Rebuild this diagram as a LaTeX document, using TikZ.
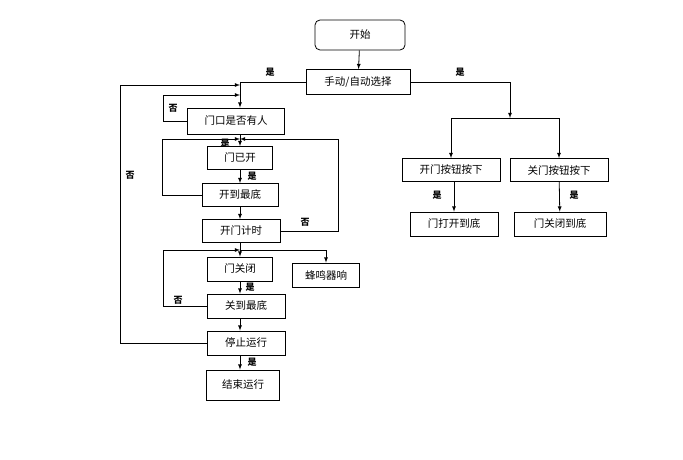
\documentclass[tikz,border=0pt]{standalone}
\usepackage{fontspec}
\usepackage{tikz}
\setmainfont{Noto Sans CJK SC}
\tikzset{
  box/.style={draw, thick, minimum height=23pt, font=\fontsize{10.5}{12}\selectfont, inner sep=1pt},
  lab/.style={font=\fontsize{9}{10}\selectfont\bfseries},
  arr/.style={-latex, thick}
}

\begin{document}
\begin{tikzpicture}[x=1pt,y=-1pt]
\useasboundingbox (0,0) rectangle (683,460);
% left column
\node[box, rounded corners=5pt, minimum width=90pt, minimum height=30pt] (start) at (360,35) {开始};
\node[box, minimum width=104pt, minimum height=25pt] (mode) at (358,82) {手动/自动选择};
\node[box, minimum width=97pt, minimum height=26pt] (person) at (236,121) {门口是否有人};
\node[box, minimum width=65pt] (opened) at (240,158) {门已开};
\node[box, minimum width=76pt] (openend) at (240,195) {开到最底};
\node[box, minimum width=78pt] (timer) at (241,231) {开门计时};
\node[box, minimum width=65pt, minimum height=24pt] (closed) at (240,269) {门关闭};
\node[box, minimum width=67pt, minimum height=24pt] (buzz) at (326,275) {蜂鸣器响};
\node[box, minimum width=78pt, minimum height=24pt] (closeend) at (246,306) {关到最底};
\node[box, minimum width=78pt, minimum height=24pt] (stop) at (246,343) {停止运行};
\node[box, minimum width=73pt, minimum height=30pt] (finish) at (243,385) {结束运行};
% right column
\node[box, minimum width=98pt] (openbtn) at (451,170) {开门按钮按下};
\node[box, minimum width=98pt] (closebtn) at (559,170) {关门按钮按下};
\node[box, minimum width=88pt, minimum height=24pt] (openfull) at (454,224) {门打开到底};
\node[box, minimum width=92pt, minimum height=24pt] (closefull) at (560,224) {门关闭到底};

\coordinate (split) at (510,118);
\coordinate (top) at (240,82);
\coordinate (mid) at (240,139);
\coordinate (low) at (240,250);

\draw[arr] (start) -- (mode);
\draw[arr] (mode.east) -| (split);
\draw[thick] (openbtn.north |- split) -- (closebtn.north |- split);
\draw[arr] (openbtn.north |- split) -- (openbtn.north);
\draw[arr] (closebtn.north |- split) -- (closebtn.north);
\draw[arr] (openfull.north |- openbtn.south) -- (openfull);
\draw[arr] (closebtn) -- (closefull);

\draw[thick] (mode.west) -- (top);
\draw[arr] (top) -- (top |- person.north);
\draw[arr] (stop.west) -- (120,343) -- (120,85) -- (240,85);
\draw[arr] (person.west) -- (163,121) -- (163,95) -- (240,95);
\draw[arr] (mid |- person.south) -- (opened.north);
\draw[arr] (openend.west) -- (162,195) -- (162,139) -- (mid);
\draw[arr] (timer.east) -- (338,231) -- (338,139) -- (mid);
\draw[arr] (opened) -- (openend);
\draw[arr] (openend) -- (openend |- timer.north);
\draw[thick] (low |- timer.south) -- (low);
\draw[arr] (low) -- (closed);
\draw[arr] (low) -| (buzz);
\draw[arr] (closeend.west) -- (163,306) -- (163,250) -- (low);
\draw[arr] (closed.south) -- (closed.south |- closeend.north);
\draw[arr] (low |- closeend.south) -- (low |- stop.north);
\draw[arr] (low |- stop.south) -- (low |- finish.north);

\node[lab] (y1) at (270,72) {是};
\node[lab] (y2) at (460,72) {是};
\node[lab] (y3) at (437,195) {是};
\node[lab] (y4) at (574,195) {是};
\node[lab] (y5) at (225,143) {是};
\node[lab] (y6) at (252,176) {是};
\node[lab] (y7) at (250,287) {是};
\node[lab] (y8) at (252,362) {是};
\node[lab] (n1) at (130,175) {否};
\node[lab] (n2) at (173,108) {否};
\node[lab] (n3) at (305,222) {否};
\node[lab] (n4) at (178,300) {否};
\end{tikzpicture}
\end{document}
